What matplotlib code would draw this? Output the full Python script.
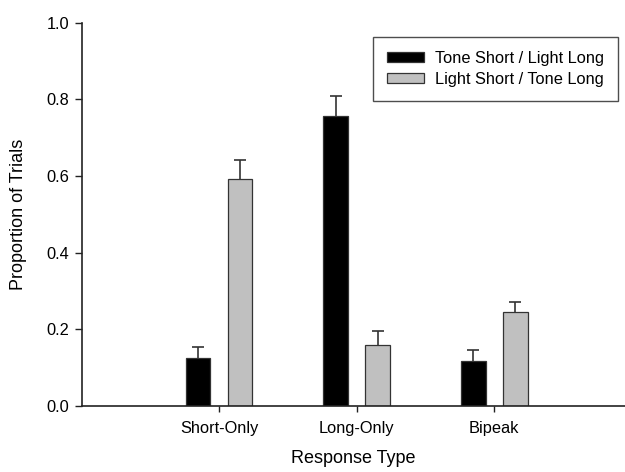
import numpy as np
import matplotlib
matplotlib.use('Agg')
import matplotlib.pyplot as plt

plt.rcParams['font.family'] = ['Liberation Sans', 'DejaVu Sans']

categories = ['Short-Only', 'Long-Only', 'Bipeak']
series_names = ['Tone Short / Light Long', 'Light Short / Tone Long']
tone_short = [0.125, 0.757, 0.118]
tone_short_err = [0.030, 0.052, 0.029]
light_short = [0.593, 0.158, 0.245]
light_short_err = [0.048, 0.037, 0.027]

fig = plt.figure(figsize=(6.25, 4.72), dpi=100)
ax = fig.add_axes([0.1312, 0.1398, 0.8688, 0.812])

x = np.arange(1, len(categories) + 1)
w = 0.18
off = 0.153
for xpos, vals, errs, col, name in [(x - off, tone_short, tone_short_err, 'black', series_names[0]),
                                    (x + off, light_short, light_short_err, '#c0c0c0', series_names[1])]:
    vals = np.array(vals)
    errs = np.array(errs)
    # error stem first so the bar covers its lower end
    ax.vlines(xpos, vals, vals + errs, color='#333333', linewidth=1.2, zorder=1)
    ax.plot(xpos, vals + errs, linestyle='none', marker='_', markersize=9,
            markeredgewidth=1.2, color='#333333', zorder=1)
    ax.bar(xpos, vals, w, color=col, edgecolor='#333333', linewidth=0.9,
           label=name, zorder=2)

ax.set_xlim(0.004, 3.95)
ax.set_ylim(0, 1.0)
ax.set_xticks(x)
ax.set_xticklabels(categories)
ax.set_yticks(np.arange(0, 1.01, 0.2))
ax.set_yticklabels(['%.1f' % v for v in np.arange(0, 1.01, 0.2)])
for s in ['top', 'right']:
    ax.spines[s].set_visible(False)
for s in ['left', 'bottom']:
    ax.spines[s].set_color('#222222')
    ax.spines[s].set_linewidth(1.2)
ax.tick_params(axis='both', direction='out', length=5, width=1, color='#222222',
               labelsize=11.8, pad=4)
ax.tick_params(axis='x', length=4, pad=7)

ax.set_xlabel('Response Type', fontsize=13, labelpad=10)
ax.set_ylabel('Proportion of Trials', fontsize=13, labelpad=14)

leg = ax.legend(loc='upper right', bbox_to_anchor=(0.987, 0.963), fontsize=11.8,
                frameon=True, fancybox=False, handlelength=2.25, handleheight=0.6,
                borderpad=0.85, labelspacing=0.35, handletextpad=0.7, borderaxespad=0)
leg.get_frame().set_edgecolor('#222222')
leg.get_frame().set_linewidth(1)

fig.savefig('out.png', dpi=100)
